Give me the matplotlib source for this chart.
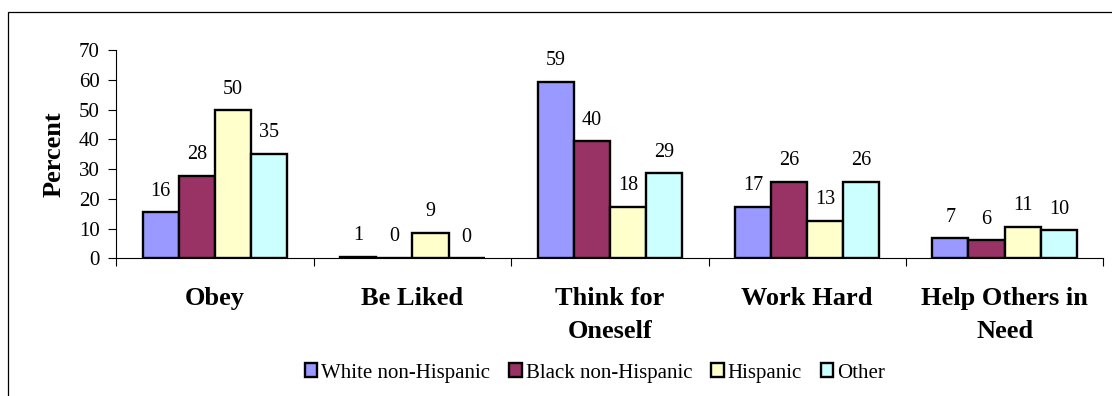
import matplotlib
matplotlib.use("Agg")
import matplotlib.pyplot as plt
from matplotlib.patches import Rectangle
import numpy as np

plt.rcParams['font.family'] = ['Liberation Serif', 'DejaVu Serif']

# data
categories = ["Obey", "Be Liked", "Think for\nOneself", "Work Hard", "Help Others in\nNeed"]
series = ["White non-Hispanic", "Black non-Hispanic", "Hispanic", "Other"]
white = [15.5, 0.5, 59.2, 17.2, 6.7]
black = [27.8, 0.2, 39.3, 25.8, 6.0]
hispanic = [49.7, 8.6, 17.2, 12.5, 10.5]
other = [35.0, 0.0, 28.5, 25.8, 9.4]
white_lbl = [16, 1, 59, 17, 7]
black_lbl = [28, 0, 40, 26, 6]
hispanic_lbl = [50, 9, 18, 13, 11]
other_lbl = [35, 0, 29, 26, 10]
colors = ["#9999FF", "#993366", "#FFFFCC", "#CCFFFF"]

values = [white, black, hispanic, other]
labels = [white_lbl, black_lbl, hispanic_lbl, other_lbl]

fig = plt.figure(figsize=(11.12, 3.96), dpi=100)
ax = fig.add_axes([116.3 / 1112, 1 - 258.3 / 396, (1103.3 - 116.3) / 1112, (258.3 - 50) / 396])

# outer chart frame (right/bottom edges fall outside the image)
fig.patches.append(Rectangle((8.3 / 1112, -0.2), 1.2, 1.2 - 11.7 / 396,
                             transform=fig.transFigure, fill=False,
                             edgecolor="black", linewidth=0.9))

x = np.arange(len(categories))
w = 0.183
for i, (vals, lbls) in enumerate(zip(values, labels)):
    pos = x + (i - 1.5) * w
    ax.bar(pos, vals, width=w, color=colors[i], edgecolor="black",
           linewidth=1.7, label=series[i], zorder=3)
    for px, v, t in zip(pos, vals, lbls):
        ax.annotate(str(t), (px, v), xytext=(0, 12), textcoords="offset points",
                    ha="center", va="baseline", fontsize=14.5)

ax.set_xlim(-0.5, len(categories) - 0.5)
ax.set_ylim(0, 70)
ax.set_yticks(range(0, 71, 10))
ax.tick_params(axis="y", labelsize=15, length=5.8, width=0.8, pad=6)

ax.set_xticks(np.arange(len(categories) + 1) - 0.5)
ax.set_xticklabels([])
ax.tick_params(axis="x", which="major", length=6, width=0.8, direction="out")
ax.set_xticks(x, minor=True)
ax.set_xticklabels(categories, minor=True, fontsize=19, fontweight="bold",
                   linespacing=1.55)
ax.tick_params(axis="x", which="minor", length=0, pad=21)

ax.spines["top"].set_visible(False)
ax.spines["right"].set_visible(False)
ax.spines["left"].set_linewidth(0.8)
ax.spines["bottom"].set_linewidth(0.8)

ax.set_ylabel("Percent", fontsize=19, fontweight="bold", labelpad=10)

fig.legend(loc="center", bbox_to_anchor=(595 / 1112, 1 - 373 / 396), ncol=4,
           frameon=False, fontsize=15, handlelength=0.6, handleheight=0.65,
           handletextpad=0.2, columnspacing=0.9)

fig.savefig("out.png", dpi=100)
